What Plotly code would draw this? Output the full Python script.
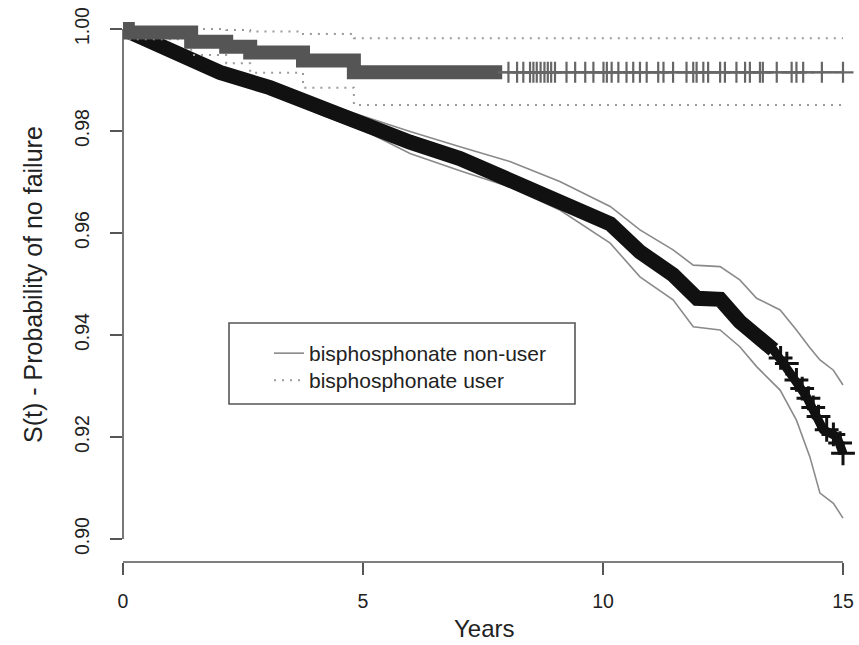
import plotly.graph_objects as go

# ---------------- data ----------------
# bisphosphonate non-user : Kaplan-Meier estimate
nonuser_t = [0, 0.98, 2.02, 3.06, 4.1, 5.15, 5.98, 7.02, 7.85, 9.0, 10.15, 10.77,
             11.46, 11.96, 12.44, 12.85, 13.55, 13.9, 14.24, 14.59, 14.87, 15.0]
nonuser_s = [1.0, 0.9960, 0.9915, 0.9885, 0.9845, 0.9810, 0.9778, 0.9746, 0.9711,
             0.9668, 0.9618, 0.9563, 0.9518, 0.9472, 0.9470, 0.9426, 0.9371, 0.9325,
             0.9279, 0.9214, 0.9201, 0.9168]
# confidence limits (non-user)
nonuser_ci_t = [0, 0.98, 2.02, 3.06, 4.1, 5.15, 5.98, 7.02, 8.06, 9.1, 10.15, 10.77,
                11.46, 11.88, 12.44, 12.85, 13.2, 13.69, 14.03, 14.31, 14.52, 14.8, 15.0]
nonuser_upper = [1.0, 0.9966, 0.9923, 0.9895, 0.9857, 0.9825, 0.9799, 0.9769, 0.9740,
                 0.9701, 0.9652, 0.9606, 0.9567, 0.9537, 0.9534, 0.9508, 0.9472, 0.9449,
                 0.9410, 0.9375, 0.9351, 0.9331, 0.9302]
nonuser_lower = [1.0, 0.9954, 0.9907, 0.9875, 0.9833, 0.9795, 0.9756, 0.9722, 0.9690,
                 0.9645, 0.9580, 0.9514, 0.9469, 0.9416, 0.9410, 0.9377, 0.9338, 0.9292,
                 0.9233, 0.9161, 0.9090, 0.9070, 0.9041]
# censoring marks that stand apart at the end of the non-user curve
nonuser_cens_t = [13.7, 13.83, 14.03, 14.15, 14.28, 14.38, 14.49, 14.66, 14.8, 14.94, 15.0]
nonuser_cens_s = [0.9355, 0.9344, 0.9312, 0.9295, 0.9276, 0.9258, 0.9240, 0.9214,
                  0.9205, 0.9188, 0.9168]
nonuser_dense_end = 13.6   # censoring marks merge into a solid band before this time

# bisphosphonate user : Kaplan-Meier step estimate
user_t = [0, 0.1, 1.42, 2.15, 2.65, 3.75, 4.81, 15.0]
user_s = [1.0, 0.9993, 0.9975, 0.9965, 0.9954, 0.9938, 0.9915, 0.9915]
user_upper = [1.0, 1.0, 1.0, 0.9998, 0.9995, 0.9990, 0.9982, 0.9982]
user_lower = [1.0, 0.9980, 0.9949, 0.9933, 0.9914, 0.9885, 0.9851, 0.9851]
user_dense_end = 7.9       # censoring marks merge into a solid band before this time
user_cens_t = [8.03, 8.21, 8.34, 8.48, 8.55, 8.62, 8.7, 8.78, 8.85, 8.92, 9.0, 9.24,
               9.42, 9.63, 9.8, 10.01, 10.08, 10.18, 10.32, 10.49, 10.63, 10.77, 10.91,
               11.15, 11.26, 11.46, 11.74, 11.88, 11.95, 12.09, 12.19, 12.44, 12.54,
               12.78, 12.96, 13.06, 13.27, 13.33, 13.62, 13.93, 14.03, 14.17, 14.56, 15.0]

x_ticks = [0, 5, 10, 15]
y_ticks = [0.90, 0.92, 0.94, 0.96, 0.98, 1.00]
y_tick_text = ["0.90", "0.92", "0.94", "0.96", "0.98", "1.00"]
legend_names = ["bisphosphonate non-user", "bisphosphonate user"]


def step_value(ts, ss, t):
    val = ss[0]
    for ti, si in zip(ts, ss):
        if ti <= t:
            val = si
    return val


FONT = "Liberation Sans, Arial, Helvetica, sans-serif"
W, H = 859, 645
ML, MB = 123, 83
PW, PH = W - ML, H - MB
X_PX_PER_UNIT = 48.0
Y_PX_PER_UNIT = 5100.0
x_max = PW / X_PX_PER_UNIT
y_min = 1.0 - (PH - 29) / Y_PX_PER_UNIT
y_max = 1.0 + 29 / Y_PX_PER_UNIT


def px(xp):
    return (xp - ML) / PW


def py(yp):
    return (PH - yp) / PH


fig = go.Figure()

# ---- non-user: confidence limits (thin grey solid) ----
fig.add_trace(go.Scatter(x=nonuser_ci_t, y=nonuser_upper, mode="lines",
                         line=dict(color="#8a8a8a", width=1.6),
                         name=legend_names[0], showlegend=True, legend="legend",
                         hoverinfo="skip"))
fig.add_trace(go.Scatter(x=nonuser_ci_t, y=nonuser_lower, mode="lines",
                         line=dict(color="#8a8a8a", width=1.6),
                         showlegend=False, hoverinfo="skip"))
# ---- non-user curve ----
fig.add_trace(go.Scatter(x=nonuser_t, y=nonuser_s, mode="lines",
                         line=dict(color="#111111", width=9),
                         showlegend=False))
dense_x = [t for t in nonuser_t if t < nonuser_dense_end]
dense_y = nonuser_s[:len(dense_x)]
fig.add_trace(go.Scatter(x=dense_x, y=dense_y, mode="lines",
                         line=dict(color="#111111", width=15),
                         showlegend=False, hoverinfo="skip"))
fig.add_trace(go.Scatter(x=nonuser_cens_t, y=nonuser_cens_s, mode="markers",
                         marker=dict(symbol="cross-thin", size=17,
                                     line=dict(color="#111111", width=3)),
                         showlegend=False))

# ---- user: confidence limits (dotted grey) ----
fig.add_trace(go.Scatter(x=user_t, y=user_upper, mode="lines",
                         line=dict(color="#9a9a9a", width=2, dash="2px,6px", shape="hv"),
                         name=legend_names[1], showlegend=True, legend="legend2",
                         hoverinfo="skip"))
fig.add_trace(go.Scatter(x=user_t, y=user_lower, mode="lines",
                         line=dict(color="#9a9a9a", width=2, dash="2px,6px", shape="hv"),
                         showlegend=False, hoverinfo="skip"))
# ---- user curve ----
fig.add_trace(go.Scatter(x=user_t, y=user_s, mode="lines",
                         line=dict(color="#6a6a6a", width=2, shape="hv"),
                         showlegend=False))
ux = [t for t in user_t if t < user_dense_end] + [user_dense_end]
uy = [step_value(user_t, user_s, t) for t in ux]
fig.add_trace(go.Scatter(x=ux, y=uy, mode="lines",
                         line=dict(color="#555555", width=14, shape="hv"),
                         showlegend=False, hoverinfo="skip"))
fig.add_trace(go.Scatter(x=user_cens_t,
                         y=[step_value(user_t, user_s, t) for t in user_cens_t],
                         mode="markers",
                         marker=dict(symbol="cross-thin", size=15,
                                     line=dict(color="#666666", width=2.2)),
                         showlegend=False))

# ---- R-style detached axis lines + legend box ----
shapes = [
    dict(type="line", xref="paper", yref="y", x0=0, x1=0,
         y0=y_ticks[0], y1=y_ticks[-1], line=dict(color="#555555", width=1.6)),
    dict(type="line", xref="x", yref="paper", x0=x_ticks[0], x1=x_ticks[-1],
         y0=0, y1=0, line=dict(color="#555555", width=1.6)),
    dict(type="rect", xref="paper", yref="paper",
         x0=px(229), x1=px(575), y0=py(404), y1=py(323),
         line=dict(color="#555555", width=1.6), fillcolor="rgba(0,0,0,0)"),
]

annotations = [
    dict(text="Years", xref="paper", yref="paper",
         x=px(484), y=py(644), xanchor="center", yanchor="bottom", showarrow=False,
         font=dict(family=FONT, size=24, color="#222222")),
    dict(text="S(t) - Probability of no failure", xref="paper", yref="paper",
         x=px(33), y=py(285), textangle=-90,
         xanchor="center", yanchor="middle", showarrow=False,
         font=dict(family=FONT, size=25, color="#222222")),
]

legend_style = dict(xanchor="left", yanchor="top", bgcolor="rgba(0,0,0,0)",
                    borderwidth=0, font=dict(family=FONT, size=21, color="#222222"))

fig.update_layout(
    width=W, height=H,
    margin=dict(l=ML, r=0, t=0, b=MB, pad=0),
    paper_bgcolor="white", plot_bgcolor="white",
    font=dict(family=FONT, color="#222222"),
    shapes=shapes, annotations=annotations,
    legend=dict(x=px(269), y=py(333), **legend_style),
    legend2=dict(x=px(269), y=py(360), **legend_style),
    xaxis=dict(range=[0, x_max], tickvals=x_ticks, ticktext=[str(v) for v in x_ticks],
               ticks="outside", ticklen=12, tickwidth=1.6, tickcolor="#555555",
               showline=False, showgrid=False, zeroline=False,
               tickfont=dict(family=FONT, size=19.5, color="#222222"),
               ticklabelstandoff=10),
    yaxis=dict(range=[y_min, y_max], tickvals=y_ticks, ticktext=y_tick_text,
               ticks="outside", ticklen=12, tickwidth=1.6, tickcolor="#555555",
               tickangle=-90,
               showline=False, showgrid=False, zeroline=False,
               tickfont=dict(family=FONT, size=19.5, color="#222222"),
               ticklabelstandoff=13),
)

fig.write_html("out.html")
